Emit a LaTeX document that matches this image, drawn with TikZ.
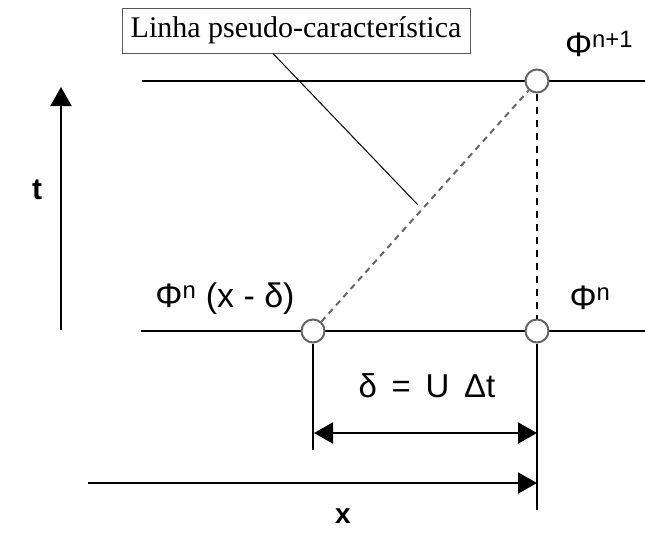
\documentclass[tikz,border=0pt]{standalone}
\usepackage{fontspec}
\setmainfont{Liberation Sans}
\newfontfamily\boxfont{Liberation Serif}
\usetikzlibrary{arrows.meta}
\tikzset{
  grid line/.style={line width=2pt},
  gridpt/.style={circle, draw=gray!80!black, fill=white, line width=2pt, minimum size=23pt, inner sep=0pt},
  lbl/.style={font=\fontsize{34}{38}\selectfont, inner sep=0pt},
  tip/.style={-{Triangle[length=19pt,width=21pt]}}
}
\begin{document}
\begin{tikzpicture}[x=1pt, y=-1pt]
\useasboundingbox (0,0) rectangle (645,533);
% grid lines in time
\draw[grid line] (142,81) -- (645,81);
\draw[grid line] (141,331) -- (645,331);
% points
\node[gridpt] (foot) at (313,331) {};
\node[gridpt] (now) at (537,331) {};
\node[gridpt] (next) at (537,81) {};
\draw[gray!80!black, line width=2pt, dash pattern=on 6pt off 5pt] (foot) -- (next);
\draw[line width=2pt, dash pattern=on 7pt off 6pt] (next) -- (now);
% labels
\node[lbl] (phinext) at (599,44) {Φ\textsuperscript{n+1}};
\node[lbl] (phinow) at (590,298) {Φ\textsuperscript{n}};
\node[lbl] (phifoot) at (225,299) {Φ\textsuperscript{n} (x - δ)};
\node[draw=gray!70!black, line width=1pt, minimum width=348pt, minimum height=45pt, inner sep=0pt, font=\boxfont\fontsize{30}{34}\selectfont] (pseudo) at (296,30.5) {Linha pseudo-característica};
\coordinate (touch) at (418,205);
\draw[line width=1pt] (pseudo.south -| 273,0) -- (touch);
% distance delta
\coordinate (footend) at (313,450);
\coordinate (nowend) at (537,510);
\draw[grid line] (foot) -- (footend);
\draw[grid line] (now) -- (nowend);
\node[lbl, font=\fontsize{33}{36}\selectfont] (delta) at (427,386) {δ\, = \,U\, Δt};
\coordinate (dleft) at (314,433);
\coordinate (dright) at (537,433);
\draw[grid line, {Triangle[length=19pt,width=21pt]}-{Triangle[length=19pt,width=21pt]}] (dleft) -- (dright);
% axes
\coordinate (xstart) at (88,483);
\coordinate (xend) at (537,483);
\draw[grid line, tip] (xstart) -- (xend);
\node[lbl, font=\bfseries\fontsize{28}{30}\selectfont] (xlabel) at (343,516) {x};
\coordinate (tstart) at (61,330);
\coordinate (tend) at (61,87);
\draw[grid line, tip] (tstart) -- (tend);
\node[lbl, font=\bfseries\fontsize{30}{32}\selectfont] (tlabel) at (37,190) {t};
\end{tikzpicture}
\end{document}
